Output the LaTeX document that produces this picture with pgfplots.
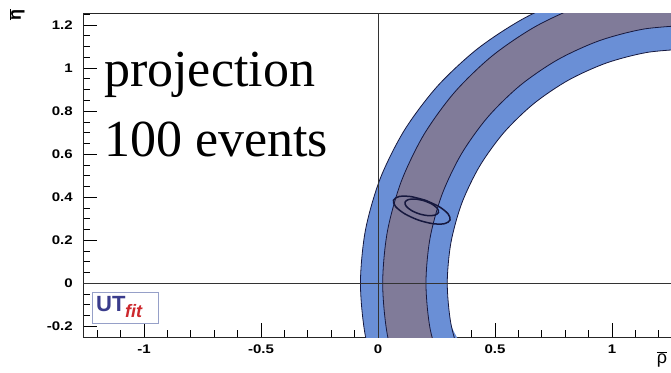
\documentclass[border=0pt]{standalone}
\usepackage{pgfplots}
\pgfplotsset{compat=1.18}
\usepackage{fontspec}
\setmainfont{Liberation Serif}
\setsansfont{Liberation Sans}

\definecolor{bandblue}{RGB}{106,143,214}
\definecolor{bandgrey}{RGB}{128,123,153}
\definecolor{edge}{RGB}{22,24,62}
\definecolor{utblue}{RGB}{58,60,140}
\definecolor{utred}{RGB}{205,40,45}
\definecolor{utframe}{RGB}{150,160,200}

\begin{document}
\begin{tikzpicture}[x=1pt,y=1pt]
\useasboundingbox (0,0) rectangle (671,372);
\begin{axis}[
  at={(83pt,35pt)}, anchor=south west,
  scale only axis, width=590pt, height=323pt,
  xmin=-1.2607, xmax=1.2607, ymin=-0.25, ymax=1.252,
  xtick={-1,-0.5,0,0.5,1},
  ytick={-0.2,0,0.2,0.4,0.6,0.8,1,1.2},
  minor xtick={-1.2,-1.1,...,1.25},
  minor ytick={-0.25,-0.2,...,1.26},
  xtick pos=left, ytick pos=left,
  tick align=inside,
  major tick length=14pt, minor tick length=7pt,
  tick style={black, line width=0.9pt},
  axis line style={black!85, line width=1pt},
  /pgf/number format/assume math mode=true,
  ticklabel style={font=\sffamily\bfseries\fontsize{12.5}{13}\selectfont, xscale=1.2},
  xticklabel style={yshift=-4pt},
  yticklabel style={xshift=-5pt},
  clip=true,
]

% outer (lighter) band: outer edge then inner edge reversed
\addplot [fill=bandblue, draw=none, smooth] coordinates {
  (1.330,1.425) (1.0861,1.4033) (0.8495,1.3391) (0.6275,1.2341)
  (0.4269,1.0916) (0.2538,0.9160) (0.1133,0.7125) (0.0097,0.4874)
  (-0.0536,0.2474) (-0.075,0) (-0.0536,-0.2474) (0.0097,-0.4874)
  (0.3583,-0.3728) (0.3117,-0.1892) (0.296,0) (0.3117,0.1892)
  (0.3583,0.3728) (0.4346,0.545) (0.538,0.7007) (0.6653,0.8349)
  (0.813,0.9439) (0.9764,1.0243) (1.1505,1.0734) (1.33,1.09)
} -- cycle;

% inner (darker) band
\addplot [fill=bandgrey, draw=none, smooth] coordinates {
  (1.33,1.38) (1.1026,1.3590) (0.8820,1.2968) (0.675,1.1951)
  (0.4879,1.0571) (0.3265,0.8871) (0.1955,0.6900) (0.0990,0.4720)
  (0.0399,0.2396) (0.020,0) (0.0399,-0.2396) (0.0990,-0.4720)
  (0.2728,-0.4104) (0.2221,-0.2083) (0.205,0) (0.2221,0.2083)
  (0.2728,0.4104) (0.3557,0.6000) (0.4682,0.7714) (0.6068,0.9192)
  (0.7675,1.0392) (0.9452,1.1276) (1.1347,1.1818) (1.33,1.20)
} -- cycle;

% band edges
\addplot [edge, line width=0.8pt, smooth] coordinates {
  (1.330,1.425) (1.0861,1.4033) (0.8495,1.3391) (0.6275,1.2341)
  (0.4269,1.0916) (0.2538,0.9160) (0.1133,0.7125) (0.0097,0.4874)
  (-0.0536,0.2474) (-0.075,0) (-0.0536,-0.2474) (0.0097,-0.4874)
};
\addplot [edge, line width=0.8pt, smooth] coordinates {
  (1.33,1.38) (1.1026,1.3590) (0.8820,1.2968) (0.675,1.1951)
  (0.4879,1.0571) (0.3265,0.8871) (0.1955,0.6900) (0.0990,0.4720)
  (0.0399,0.2396) (0.020,0) (0.0399,-0.2396) (0.0990,-0.4720)
};
\addplot [edge, line width=0.8pt, smooth] coordinates {
  (1.33,1.20) (1.1347,1.1818) (0.9452,1.1276) (0.7675,1.0392)
  (0.6068,0.9192) (0.4682,0.7714) (0.3557,0.6000) (0.2728,0.4104)
  (0.2221,0.2083) (0.205,0) (0.2221,-0.2083) (0.2728,-0.4104)
};
\addplot [edge, line width=0.8pt, smooth] coordinates {
  (1.33,1.09) (1.1505,1.0734) (0.9764,1.0243) (0.813,0.9439)
  (0.6653,0.8349) (0.538,0.7007) (0.4346,0.545) (0.3583,0.3728)
  (0.3117,0.1892) (0.296,0) (0.3117,-0.1892) (0.3583,-0.3728)
};

% zero lines
\addplot [black!80, line width=0.7pt] coordinates {(-1.3,0) (1.3,0)};
\addplot [black!80, line width=0.7pt] coordinates {(0,-0.3) (0,1.3)};

% projected contours (two levels)
\addplot [edge, line width=1.5pt, smooth] coordinates {
  (0.2019,0.3861) (0.1394,0.4031) (0.0898,0.4032) (0.0661,0.3863)
  (0.0748,0.3570) (0.1136,0.3233) (0.1721,0.2939) (0.2346,0.2769)
  (0.2842,0.2768) (0.3079,0.2937) (0.2992,0.3230) (0.2604,0.3567)
  (0.2019,0.3861)
};
\addplot [edge, line width=1.5pt, smooth] coordinates {
  (0.1956,0.3842) (0.1586,0.3917) (0.1293,0.3889) (0.1154,0.3764)
  (0.1207,0.3577) (0.1438,0.3377) (0.1784,0.3218) (0.2154,0.3143)
  (0.2447,0.3171) (0.2586,0.3296) (0.2533,0.3483) (0.2302,0.3683)
  (0.1956,0.3842)
};
\end{axis}

% axis titles
\node[rotate=90, font=\sffamily\bfseries\fontsize{18}{18}\selectfont] at (17,357) {$\overline{\mbox{η}}$};
\node[font=\sffamily\fontsize{18}{18}\selectfont, anchor=south] at (662,1) {$\overline{\mbox{ρ}}$};

% annotation
\node[anchor=base west, inner sep=0, font=\fontsize{52}{60}\selectfont] at (104,285) {projection};
\node[anchor=base west, inner sep=0, font=\fontsize{52}{60}\selectfont] at (104,215) {100 events};

% logo
\node[draw=utframe, line width=1pt, fill=white, anchor=south west, minimum width=66pt,
      minimum height=31pt, inner sep=0] at (92,48) {};
\node[anchor=base west, inner sep=0, text=utblue, font=\sffamily\bfseries\fontsize{22}{22}\selectfont] at (96,61) {UT};
\node[anchor=base west, inner sep=0, text=utred, font=\sffamily\bfseries\itshape\fontsize{18}{18}\selectfont] at (125,55) {fit};
\end{tikzpicture}
\end{document}
